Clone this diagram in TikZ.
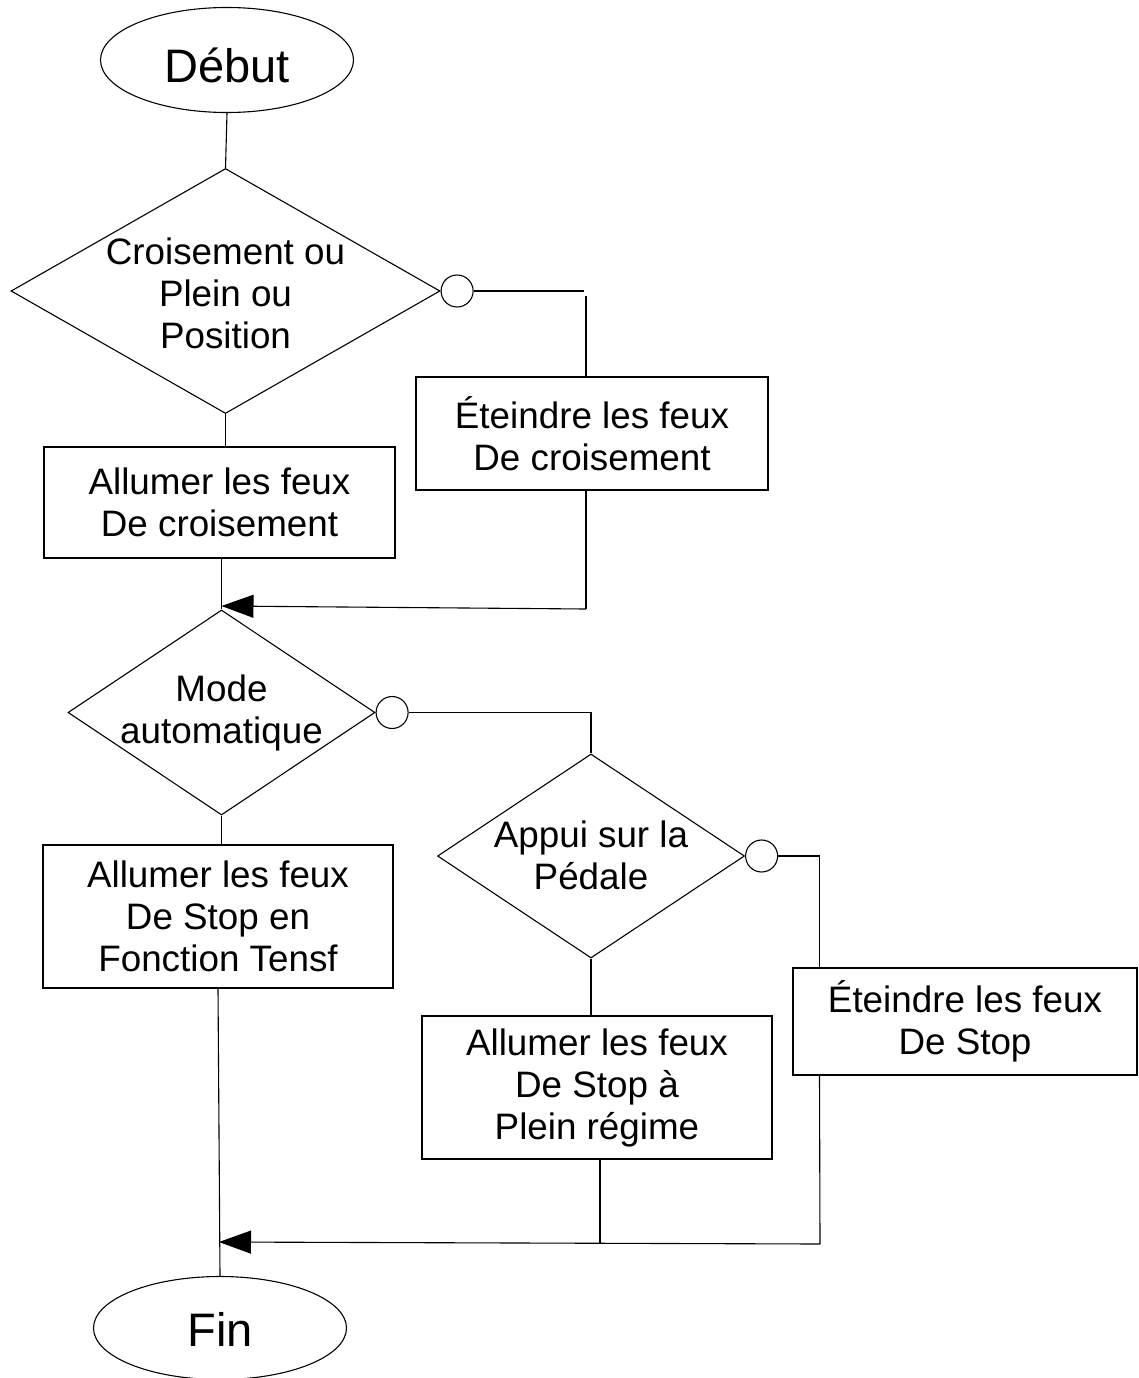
\documentclass[tikz,border=0pt]{standalone}
\usepackage{fontspec}
\setmainfont{Liberation Sans}
\usetikzlibrary{shapes.geometric,arrows.meta}
\begin{document}
\begin{tikzpicture}[x=1pt,y=-1pt,
  every node/.style={font=\fontsize{36.8}{42}\selectfont},
  terminal/.style={ellipse,draw,line width=1.1pt,inner sep=0pt},
  bigtext/.style={font=\fontsize{47}{56}\selectfont,inner sep=0pt},
  decision/.style={diamond,draw,line width=1.1pt,inner sep=0pt},
  procbox/.style={rectangle,draw,line width=1.1pt,inner sep=0pt,align=center},
  labeltext/.style={align=center,inner sep=0pt},
  connector/.style={circle,draw,line width=1.1pt,inner sep=0pt,minimum size=32pt},
  wire/.style={line width=1.1pt},
  flow/.style={line width=1.1pt,-{Triangle[length=32pt,width=23pt]}}]

\useasboundingbox (0,0) rectangle (1138,1378);

% start / end
\node[terminal,minimum width=253pt,minimum height=105pt] (deb) at (227,60) {};
\node[bigtext] (debt) at ([yshift=-5pt]deb.center) {Début};
\node[terminal,minimum width=253pt,minimum height=103pt] (fin) at (220,1328) {};
\node[bigtext] (fint) at ([yshift=-1pt]fin.center) {Fin};

% decisions
\node[decision,minimum width=429pt,minimum height=245pt] (d1) at (225.5,291) {};
\node[labeltext] (d1t) at ([yshift=-2pt]d1.center) {Croisement ou\\Plein ou\\Position};
\node[decision,minimum width=307pt,minimum height=205pt] (d2) at (221.5,712.5) {};
\node[labeltext] (d2t) at (d2.center) {Mode\\automatique};
\node[decision,minimum width=307pt,minimum height=204pt] (d3) at (591,856) {};
\node[labeltext] (d3t) at ([yshift=1pt]d3.center) {Appui sur la\\Pédale};

% "no" branch markers
\node[connector,anchor=west] (c1) at (d1.east) {};
\node[connector,anchor=west] (c2) at (d2.east) {};
\node[connector,anchor=west] (c3) at (d3.east) {};

% actions
\node[procbox,minimum width=351pt,minimum height=111pt] (b1) at (219.5,502.5)
  {Allumer les feux\\De croisement};
\node[procbox,minimum width=352pt,minimum height=113pt] (b2) at (592,433.5)
  {Éteindre les feux\\De croisement};
\node[procbox,minimum width=350pt,minimum height=143pt] (b3) at (218,916.5)
  {Allumer les feux\\De Stop en\\Fonction Tensf};
\node[procbox,minimum width=350pt,minimum height=143pt] (b4) at (597,1087.5)
  {Allumer les feux\\De Stop à\\Plein régime};
\node[procbox,minimum width=344pt,minimum height=107pt] (b5) at (965,1021.5)
  {Éteindre les feux\\De Stop};

% bends and joins
\coordinate (k1) at (584,290);
\coordinate (k1b) at (586,296);
\coordinate (k2) at (586,609);
\coordinate (j1) at (221.5,606);
\coordinate (k5) at (819.5,856);
\coordinate (k6) at (820,1244);
\coordinate (k7) at (600,1243);
\coordinate (j2) at (219,1242);

% main column
\draw[wire] (deb.south) -- (d1.north);
\draw[wire] (d1.south) -- (d1.south |- b1.north);
\draw[wire] (b1.south -| d2.north) -- (d2.north);
\draw[wire] (d2.south) -- (d2.south |- b3.north);
\draw[wire] (b3.south) -- (fin.north);

% first branch
\draw[wire] (c1.east) -- (c1.east -| k1);
\draw[wire] (k1b) -- (k1b |- b2.north);
\draw[wire] (k1b |- b2.south) -- (k2);
\draw[flow] (k2) -- (j1);

% second and third branches
\draw[wire] (c2.east) -- (c2.east -| d3.north) -- (d3.north);
\draw[wire] (d3.south) -- (d3.south |- b4.north);
\draw[wire] (c3.east) -- (c3.east -| k5) -- (k5 |- b5.north);
\draw[wire] (k5 |- b5.south) -- (k6);
\draw[wire] (k7 |- b4.south) -- (k7);
\draw[flow] (k6) -- (j2);
\end{tikzpicture}
\end{document}
